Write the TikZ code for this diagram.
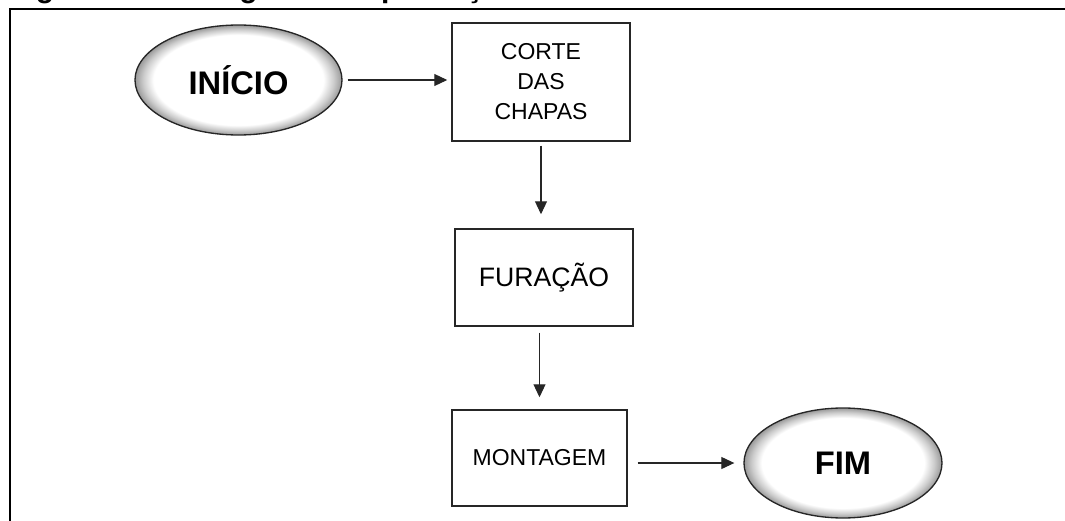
\documentclass[tikz,border=0pt]{standalone}
\usepackage{fontspec}
\setmainfont{Liberation Sans}
\usetikzlibrary{arrows.meta,shapes.geometric}

% white body with a thin grey rim for the terminal ellipses
\pgfdeclareradialshading{bevel}{\pgfpoint{0bp}{0bp}}{%
  color(0bp)=(white); color(20.5bp)=(white); color(23bp)=(gray!40);
  color(25bp)=(gray!80); color(50bp)=(gray!80)}

\tikzset{
  terminal/.style={ellipse, draw=black!85, line width=1pt, shading=bevel,
    inner sep=0pt, font=\bfseries\fontsize{24.5pt}{28pt}\selectfont},
  process/.style={rectangle, draw=black!85, line width=1.1pt, fill=white,
    inner sep=0pt, align=center},
  flow/.style={-{Triangle[length=9.75pt,width=9pt]}, line width=0.8pt, black!85},
  frame/.style={line width=1.9pt, black}
}

\begin{document}
\begin{tikzpicture}[x=0.75pt, y=-0.75pt]
  \useasboundingbox (0,0) rectangle (1065,521);
  \clip (0,0) rectangle (1065,521);

  % caption above the frame, mostly cut off by the page edge
  \node[anchor=base west, inner sep=0pt,
        font=\bfseries\fontsize{22.5pt}{26pt}\selectfont] (caption) at (9,-2.5)
        {Figura 1 – Fluxograma de produção do armário};

  % frame: top and left rules
  \draw[frame] (10,521) -- (10,9) -- (1065,9);

  % flowchart
  \node[terminal, minimum width=155.25pt, minimum height=82.5pt] (ini) at (238.5,80) {INÍCIO};
  \node[process, minimum width=133.5pt, minimum height=88.5pt,
        font=\fontsize{17.25pt}{22.5pt}\selectfont] (corte) at (541,82)
        {CORTE\\DAS\\CHAPAS};
  \node[process, minimum width=133.5pt, minimum height=72.75pt,
        font=\fontsize{20pt}{24pt}\selectfont] (fur) at (544,277.5) {FURAÇÃO};
  \node[process, minimum width=131.25pt, minimum height=72pt,
        font=\fontsize{17.25pt}{22pt}\selectfont] (mont) at (539.5,458) {MONTAGEM};
  \node[terminal, minimum width=148.5pt, minimum height=82.5pt] (fim) at (843,463) {FIM};

  % connectors
  \draw[flow, shorten <=3.75pt, shorten >=3pt] (ini.east) -- (ini.east -| corte.west);
  \draw[flow, shorten <=3pt, shorten >=10.5pt] (corte.south) -- (corte.south |- fur.north);
  \draw[flow, shorten <=4.5pt, shorten >=9pt] (mont.north |- fur.south) -- (mont.north);
  \draw[flow, shorten <=7.5pt, shorten >=6.75pt] (fim.west -| mont.east) -- (fim.west);
\end{tikzpicture}
\end{document}
